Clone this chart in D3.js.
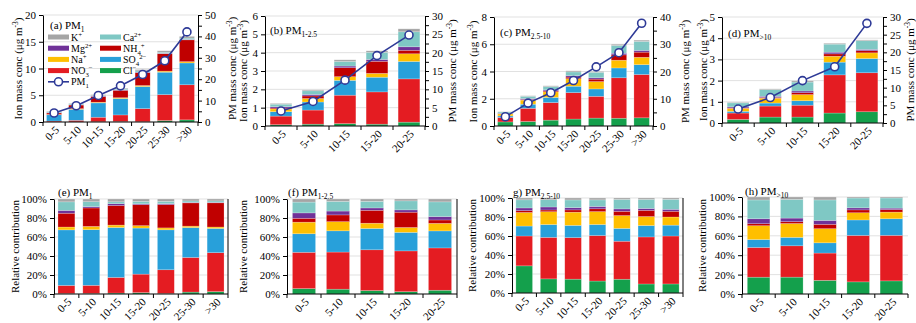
<!DOCTYPE html>
<html>
<head>
<meta charset="utf-8">
<script src="https://cdn.jsdelivr.net/npm/d3@7"></script>
<style>
  body { margin: 0; background: #fff; }
  svg text { font-family: "Liberation Serif", "Times New Roman", serif; fill: #000; }
</style>
</head>
<body>
<script>
// size bins (categories)
const binsLong = ['0-5', '5-10', '10-15', '15-20', '20-25', '25-30', '>30'];
const binsShort = ['0-5', '5-10', '10-15', '15-20', '20-25'];

// ion concentrations, ug m-3
// PM1
const pm1Cl  = [0.01, 0.02, 0.05, 0.09, 0.05, 0.27, 0.40];
const pm1NO3 = [0.17, 0.30, 0.84, 1.23, 2.45, 4.85, 6.56];
const pm1SO4 = [1.17, 2.05, 2.68, 3.06, 4.12, 4.19, 4.08];
const pm1Na  = [0.06, 0.12, 0.13, 0.16, 0.20, 0.20, 0.24];
const pm1NH4 = [0.29, 0.68, 1.05, 1.39, 2.40, 3.26, 4.08];
const pm1Mg  = [0.06, 0.05, 0.10, 0.06, 0.10, 0.07, 0.08];
const pm1Ca  = [0.18, 0.18, 0.10, 0.16, 0.24, 0.20, 0.24];
const pm1K   = [0.06, 0.10, 0.15, 0.16, 0.24, 0.27, 0.32];
const pm1Mass = [4.2, 7.6, 12.4, 16.9, 22.2, 28.6, 42.1];

// PM1-2.5
const pm125Cl  = [0.07, 0.10, 0.13, 0.10, 0.21];
const pm125NO3 = [0.47, 0.77, 1.55, 1.76, 2.36];
const pm125SO4 = [0.24, 0.44, 0.81, 0.80, 0.95];
const pm125Na  = [0.15, 0.19, 0.20, 0.21, 0.42];
const pm125NH4 = [0.05, 0.14, 0.49, 0.66, 0.19];
const pm125Mg  = [0.07, 0.08, 0.09, 0.10, 0.19];
const pm125Ca  = [0.14, 0.20, 0.25, 0.39, 0.82];
const pm125K   = [0.04, 0.05, 0.09, 0.08, 0.16];
const pm125Mass = [4.1, 6.7, 12.5, 19.2, 24.8];

// PM2.5-10
const pm2510Cl  = [0.30, 0.33, 0.43, 0.51, 0.58, 0.57, 0.60];
const pm2510NO3 = [0.33, 0.97, 1.29, 1.94, 1.60, 2.97, 3.18];
const pm2510SO4 = [0.11, 0.30, 0.38, 0.47, 0.54, 0.72, 0.72];
const pm2510Na  = [0.15, 0.30, 0.41, 0.55, 0.54, 0.57, 0.54];
const pm2510NH4 = [0.02, 0.04, 0.07, 0.12, 0.18, 0.39, 0.38];
const pm2510Mg  = [0.03, 0.07, 0.07, 0.10, 0.10, 0.12, 0.13];
const pm2510Ca  = [0.09, 0.17, 0.24, 0.28, 0.40, 0.57, 0.66];
const pm2510K   = [0.02, 0.04, 0.06, 0.08, 0.06, 0.09, 0.09];
const pm2510Mass = [3.4, 8.4, 12.2, 16.7, 21.7, 26.9, 37.7];

// PM>10
const pm10Cl  = [0.17, 0.28, 0.28, 0.47, 0.53];
const pm10NO3 = [0.30, 0.52, 0.56, 1.80, 1.84];
const pm10SO4 = [0.08, 0.14, 0.21, 0.60, 0.67];
const pm10Na  = [0.14, 0.23, 0.29, 0.28, 0.27];
const pm10NH4 = [0.02, 0.03, 0.09, 0.11, 0.10];
const pm10Mg  = [0.05, 0.06, 0.08, 0.08, 0.06];
const pm10Ca  = [0.19, 0.31, 0.42, 0.38, 0.41];
const pm10K   = [0.03, 0.04, 0.06, 0.04, 0.04];
const pm10Mass = [3.95, 7.2, 12.0, 15.9, 28.2];

// stacking order, bottom -> top
const keys = ['Cl', 'NO3', 'SO4', 'Na', 'NH4', 'Mg', 'Ca', 'K'];
const colors = {
  Cl: '#14a04c', NO3: '#e41c22', SO4: '#28a0da', Na: '#ffbf00',
  NH4: '#c00000', Mg: '#6f3198', Ca: '#7fc8c4', K: '#a5a5a5'
};
const lineColor = '#2e3a97';
const FS = 11;

function table(bins, cols) {
  return bins.map((b, i) => {
    const row = { bin: b };
    keys.forEach((k, j) => { row[k] = cols[j][i]; });
    return row;
  });
}

const rowsPM1 = table(binsLong, [pm1Cl, pm1NO3, pm1SO4, pm1Na, pm1NH4, pm1Mg, pm1Ca, pm1K]);
const rowsPM125 = table(binsShort, [pm125Cl, pm125NO3, pm125SO4, pm125Na, pm125NH4, pm125Mg, pm125Ca, pm125K]);
const rowsPM2510 = table(binsLong, [pm2510Cl, pm2510NO3, pm2510SO4, pm2510Na, pm2510NH4, pm2510Mg, pm2510Ca, pm2510K]);
const rowsPM10 = table(binsShort, [pm10Cl, pm10NO3, pm10SO4, pm10Na, pm10NH4, pm10Mg, pm10Ca, pm10K]);

const svg = d3.select('body').append('svg')
  .attr('width', 916)
  .attr('height', 323);

// text with sub/superscript pieces
function rich(sel, parts, fs) {
  let shift = 0;
  parts.forEach(([t, k]) => {
    const target = k === 'sub' ? fs * 0.3 : k === 'sup' ? -fs * 0.4 : 0;
    sel.append('tspan')
      .attr('dy', target - shift)
      .attr('font-size', k ? fs * 0.68 : fs)
      .text(t);
    shift = target;
  });
}

const unitParts = [['('], ['\u03bcg m'], ['-3', 'sup'], [')']];

function styleAxis(g) {
  g.selectAll('path, line').attr('stroke', '#000');
  g.selectAll('text').attr('font-size', FS).attr('font-family', '"Liberation Serif", serif').attr('fill', '#000');
  g.attr('font-family', null).attr('font-size', null);
}

function yLabel(x, cy, parts) {
  const t = svg.append('text')
    .attr('transform', `translate(${x},${cy}) rotate(-90)`)
    .attr('text-anchor', 'middle');
  rich(t, parts, FS);
}

function drawPanel(p) {
  const rel = p.relative;
  const x = d3.scaleBand().domain(p.rows.map(d => d.bin))
    .range([p.l, p.r]).paddingInner(0.32).paddingOuter(0.16);
  const yMax = rel ? 1 : p.yMax;
  const y = d3.scaleLinear().domain([0, yMax]).range([p.b, p.t]);
  const ticks = rel ? d3.range(0, 1.0001, 0.2) : d3.range(0, yMax + 1e-9, p.yStep);

  // grid
  svg.append('g').selectAll('line').data(ticks.slice(1)).join('line')
    .attr('x1', p.l).attr('x2', p.r)
    .attr('y1', d => y(d)).attr('y2', d => y(d))
    .attr('stroke', '#d9d9d9').attr('stroke-width', 0.8);

  // stacked bars
  const stack = d3.stack().keys(keys);
  if (rel) stack.offset(d3.stackOffsetExpand);
  const series = stack(p.rows);
  svg.append('g').selectAll('g').data(series).join('g')
    .attr('fill', d => colors[d.key])
    .selectAll('rect').data(d => d).join('rect')
    .attr('x', d => x(d.data.bin))
    .attr('width', x.bandwidth())
    .attr('y', d => y(d[1]))
    .attr('height', d => Math.max(0, y(d[0]) - y(d[1])))
    .attr('stroke', '#fff').attr('stroke-opacity', 0.35).attr('stroke-width', 0.6);

  // left axis
  const ya = svg.append('g').attr('transform', `translate(${p.l},0)`)
    .call(d3.axisLeft(y).tickValues(ticks).tickSize(4).tickSizeOuter(0).tickPadding(3)
      .tickFormat(rel ? d3.format('.0%') : d3.format('d')));
  styleAxis(ya);

  // x axis with ticks at category boundaries
  const xa = svg.append('g');
  xa.append('line').attr('x1', p.l).attr('x2', p.r).attr('y1', p.b).attr('y2', p.b).attr('stroke', '#000');
  xa.selectAll('.bt').data(d3.range(p.rows.length + 1)).join('line')
    .attr('x1', i => p.l + i * x.step()).attr('x2', i => p.l + i * x.step())
    .attr('y1', p.b).attr('y2', p.b + 4).attr('stroke', '#000');
  xa.selectAll('text').data(p.rows).join('text')
    .attr('transform', d => `translate(${x(d.bin) + x.bandwidth() / 2 + 3},${p.b + 6}) rotate(-45)`)
    .attr('text-anchor', 'end')
    .attr('dy', '0.35em')
    .attr('font-size', FS)
    .text(d => d.bin);

  if (p.rightLine) {
    svg.append('line').attr('x1', p.r).attr('x2', p.r).attr('y1', p.t).attr('y2', p.b).attr('stroke', '#000');
  }

  // PM mass line on right axis
  if (p.mass) {
    const yr = d3.scaleLinear().domain([0, p.rMax]).range([p.b, p.t]);
    const ra = svg.append('g').attr('transform', `translate(${p.r},0)`)
      .call(d3.axisRight(yr).tickValues(d3.range(0, p.rMax + 1e-9, p.rStep / 2))
        .tickSize(4).tickSizeOuter(0).tickPadding(3)
        .tickFormat(v => (Math.round(v) % p.rStep === 0 ? v : '')));
    styleAxis(ra);

    const pts = p.rows.map((d, i) => ({ bin: d.bin, v: p.mass[i] }));
    const cx = d => x(d.bin) + x.bandwidth() / 2;
    svg.append('path').datum(pts)
      .attr('fill', 'none').attr('stroke', lineColor).attr('stroke-width', 1.6)
      .attr('d', d3.line().x(cx).y(d => yr(d.v)));
    svg.append('g').selectAll('circle').data(pts).join('circle')
      .attr('cx', cx).attr('cy', d => yr(d.v)).attr('r', 4)
      .attr('fill', '#fff').attr('stroke', lineColor).attr('stroke-width', 1.6);

    yLabel(p.rLabelX, (p.t + p.b) / 2, [['PM mass conc ']].concat(unitParts));
    yLabel(p.lLabelX, (p.t + p.b) / 2, [['Ion mass conc ']].concat(unitParts));
  } else {
    yLabel(p.lLabelX, (p.t + p.b) / 2, [['Relative contribution']]);
  }

  const tt = svg.append('text').attr('x', p.tx).attr('y', p.ty);
  rich(tt, p.title, FS);
}

const panels = [
  { rows: rowsPM1, mass: pm1Mass, l: 43, r: 198, t: 15, b: 122, yMax: 20, yStep: 5, rMax: 50, rStep: 10,
    lLabelX: 22, rLabelX: 236, tx: 50, ty: 29, title: [['(a) PM'], ['1', 'sub']] },
  { rows: rowsPM125, mass: pm125Mass, l: 265, r: 425, t: 16, b: 126, yMax: 6, yStep: 1, rMax: 30, rStep: 5,
    lLabelX: 247, rLabelX: 456, tx: 270, ty: 34, title: [['(b) PM'], ['1-2.5', 'sub']] },
  { rows: rowsPM2510, mass: pm2510Mass, l: 494, r: 653, t: 17, b: 126, yMax: 8, yStep: 2, rMax: 40, rStep: 10,
    lLabelX: 477, rLabelX: 689, tx: 500, ty: 36, title: [['(c) PM'], ['2.5-10', 'sub']] },
  { rows: rowsPM10, mass: pm10Mass, l: 722, r: 883, t: 17, b: 123, yMax: 5, yStep: 1, rMax: 30, rStep: 5,
    lLabelX: 707, rLabelX: 914, tx: 728, ty: 37, title: [['(d) PM'], ['>10', 'sub']] },
  { rows: rowsPM1, relative: true, rightLine: true, l: 54, r: 228, t: 199, b: 294,
    lLabelX: 19, tx: 58, ty: 196, title: [['(e) PM'], ['1', 'sub']] },
  { rows: rowsPM125, relative: true, rightLine: true, l: 287, r: 457, t: 199, b: 294,
    lLabelX: 247, tx: 288, ty: 196, title: [['(f) PM'], ['1-2.5', 'sub']] },
  { rows: rowsPM2510, relative: true, rightLine: true, l: 512, r: 683, t: 198, b: 293,
    lLabelX: 476, tx: 513, ty: 196, title: [['g) PM'], ['2.5-10', 'sub']] },
  { rows: rowsPM10, relative: true, l: 742, r: 908, t: 197, b: 294,
    lLabelX: 706, tx: 745, ty: 195, title: [['(h) PM'], ['>10', 'sub']] }
];

panels.forEach(drawPanel);

// legend in panel (a)
const legendItems = [
  { k: 'K', parts: [['K'], ['+', 'sup']], col: 0, row: 0 },
  { k: 'Mg', parts: [['Mg'], ['2+', 'sup']], col: 0, row: 1 },
  { k: 'Na', parts: [['Na'], ['+', 'sup']], col: 0, row: 2 },
  { k: 'NO3', parts: [['NO'], ['3', 'sub'], ['\u2212', 'sup']], col: 0, row: 3 },
  { k: 'Ca', parts: [['Ca'], ['2+', 'sup']], col: 1, row: 0 },
  { k: 'NH4', parts: [['NH'], ['4', 'sub'], ['+', 'sup']], col: 1, row: 1 },
  { k: 'SO4', parts: [['SO'], ['4', 'sub'], ['2\u2212', 'sup']], col: 1, row: 2 },
  { k: 'Cl', parts: [['Cl'], ['\u2212', 'sup']], col: 1, row: 3 }
];
const legend = svg.append('g').attr('transform', 'translate(48,37)');
legendItems.forEach(it => {
  const g = legend.append('g').attr('transform', `translate(${it.col * 52},${it.row * 11.2})`);
  g.append('rect').attr('x', 0).attr('y', -2.5).attr('width', 21).attr('height', 5).attr('fill', colors[it.k]);
  const t = g.append('text').attr('x', 23).attr('y', 3.5);
  rich(t, it.parts, 10);
});
const lg = legend.append('g').attr('transform', `translate(0,${4 * 11.2})`);
lg.append('line').attr('x1', 0).attr('x2', 21).attr('stroke', lineColor).attr('stroke-width', 1.6);
lg.append('circle').attr('cx', 10.5).attr('r', 4).attr('fill', '#fff').attr('stroke', lineColor).attr('stroke-width', 1.6);
rich(lg.append('text').attr('x', 23).attr('y', 3.5), [['PM'], ['1', 'sub']], 10);
</script>
</body>
</html>
